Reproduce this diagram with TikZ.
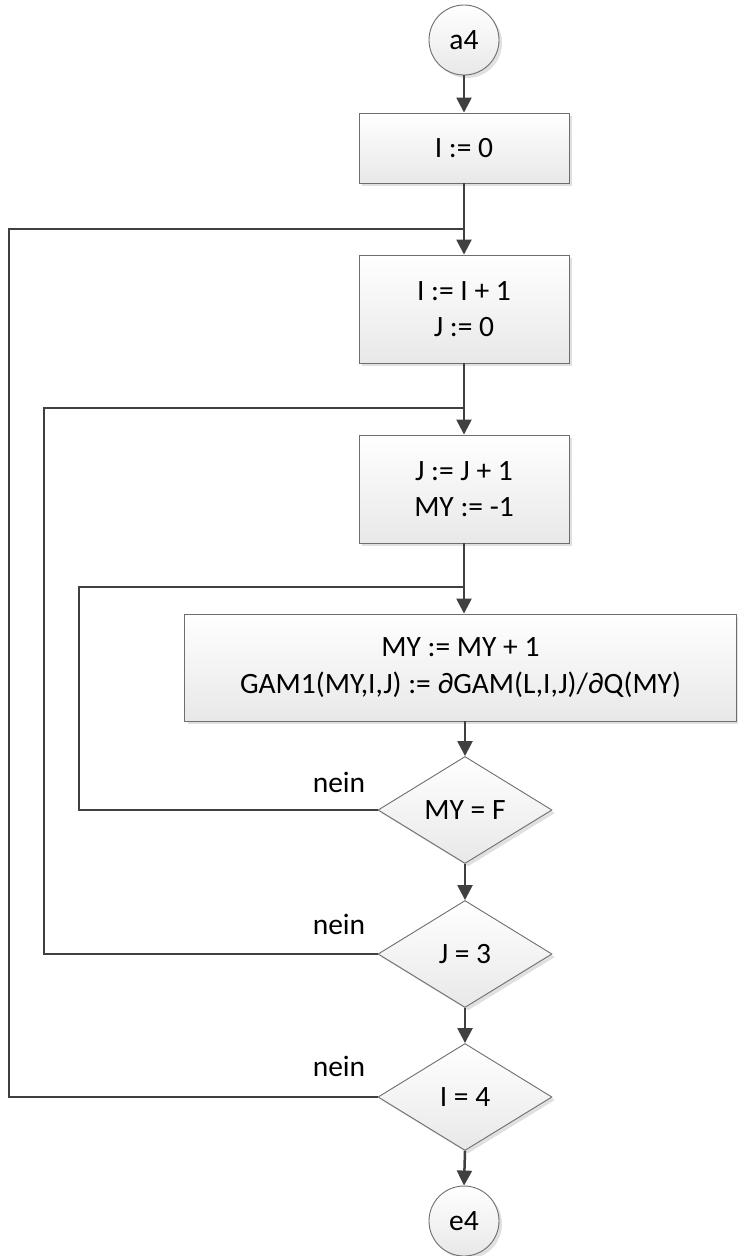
\documentclass[tikz,border=0pt]{standalone}
\usepackage{fontspec}
\setmainfont{Carlito}
\usetikzlibrary{arrows.meta,shapes.geometric,shadows}
\definecolor{linegray}{HTML}{404040}
\definecolor{edgegray}{HTML}{6E6E6E}
\tikzset{
  shape base/.style={draw=edgegray, line width=0.9pt, top color=white, bottom color=black!9,
    drop shadow={shadow xshift=3pt, shadow yshift=-3pt, fill=black!12, opacity=1},
    font=\fontsize{29.5}{36.5}\selectfont, text=black, align=center, inner sep=0pt},
  procbox/.style={shape base, rectangle},
  decision/.style={shape base, diamond, minimum width=174pt, minimum height=107pt},
  terminal/.style={shape base, circle, minimum size=70pt},
  flow/.style={draw=linegray, line width=2.5pt, -{Triangle[width=15pt,length=15pt]}},
  loopline/.style={draw=linegray, line width=2.5pt},
  answer/.style={font=\fontsize{29.5}{36.5}\selectfont, text=black, inner sep=0pt}
}
\begin{document}
\begin{tikzpicture}[x=1pt, y=-1pt]
\useasboundingbox (0,0) rectangle (738,1256);

% shapes of the flow chart
\node[terminal] (a4) at (464,40) {a4};
\node[procbox, minimum width=210pt, minimum height=70pt] (b1) at (464,148) {I := 0};
\node[procbox, minimum width=210pt, minimum height=108pt] (b2) at (464,309) {I := I + 1\\J := 0};
\node[procbox, minimum width=210pt, minimum height=108pt] (b3) at (464,489) {J := J + 1\\MY := -1};
\node[procbox, minimum width=552pt, minimum height=107pt] (b4) at (460.5,667.5) {MY := MY + 1\\GAM1(MY,I,J) := ∂GAM(L,I,J)/∂Q(MY)};
\node[decision] (d1) at (465,810) {MY = F};
\node[decision] (d2) at (465,954) {J = 3};
\node[decision] (d3) at (465,1097) {I = 4};
\node[terminal] (e4) at (464,1221) {e4};

% junction points of the three loops
\coordinate (j1) at (464,229);
\coordinate (j2) at (464,408);
\coordinate (j3) at (464,587);
\coordinate (k1) at (9,1097);
\coordinate (k2) at (44,954);
\coordinate (k3) at (79,810);

% main flow
\draw[flow] (a4) -- (b1);
\draw[flow] (b1.south -| j1) -- (b2.north -| j1);
\draw[flow] (b2.south -| j2) -- (b3.north -| j2);
\draw[flow] (b3.south -| j3) -- (b4.north -| j3);
\draw[flow] (b4.south -| d1.north) -- (d1.north);
\draw[flow] (d1.south) -- (d2.north);
\draw[flow] (d2.south) -- (d3.north);
\draw[flow] (d3.south) -- (e4.north);

% return branches
\draw[loopline] (d1.west) -- (k3) |- (j3);
\draw[loopline] (d2.west) -- (k2) |- (j2);
\draw[loopline] (d3.west) -- (k1) |- (j1);

% branch labels
\node[answer] (n1) at (339,782) {nein};
\node[answer] (n2) at (339,924) {nein};
\node[answer] (n3) at (339,1066) {nein};
\end{tikzpicture}
\end{document}
